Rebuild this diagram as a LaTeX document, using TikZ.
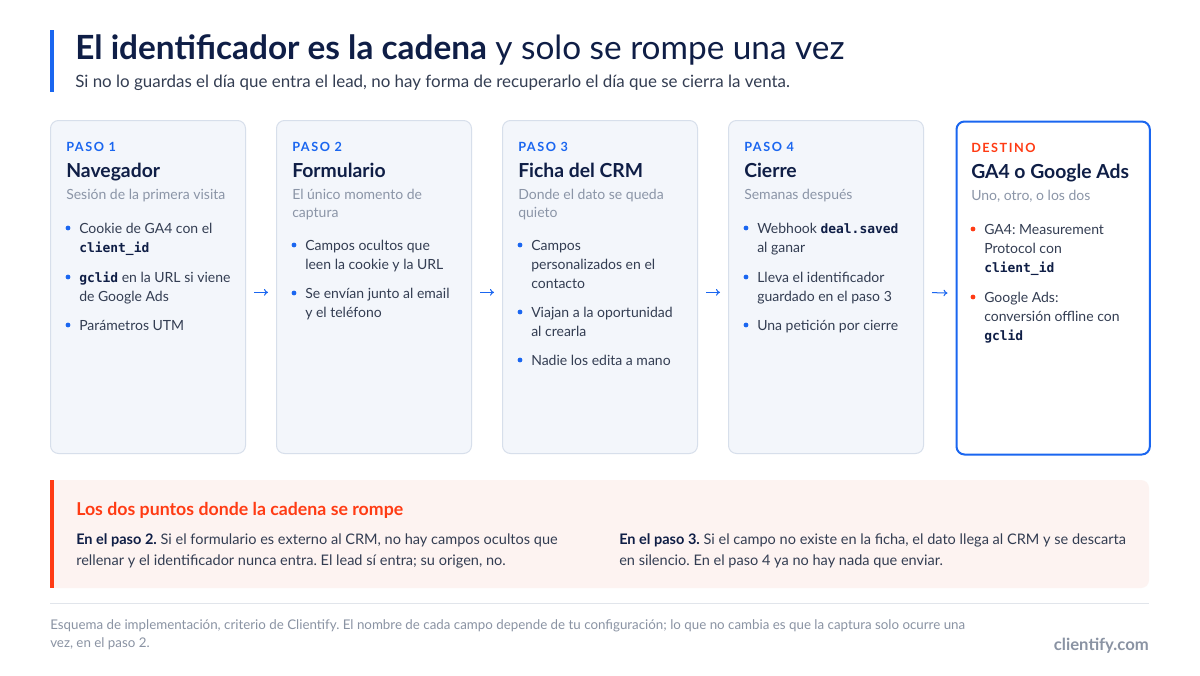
\documentclass[tikz,border=0pt]{standalone}
\usepackage{fontspec}
\setmainfont{Lato}
\setmonofont{DejaVu Sans Mono}
\usetikzlibrary{positioning,arrows.meta}
\frenchspacing

\definecolor{navy}{HTML}{0F1E46}
\definecolor{accent}{HTML}{1A66F0}
\definecolor{alert}{HTML}{FF3B14}
\definecolor{muted}{HTML}{8B95A7}
\definecolor{body}{HTML}{333D52}
\definecolor{boxfill}{HTML}{F3F6FB}
\definecolor{boxline}{HTML}{D7DFEB}
\definecolor{panelfill}{HTML}{FDF3F1}
\definecolor{rulegray}{HTML}{E1E5EB}
\definecolor{foot}{HTML}{8A93A3}

\newcommand\idcode[1]{{\fontsize{9.7}{14.25}\selectfont\ttfamily\bfseries\color{navy}#1}}

% multi-line nodes: the base anchor sits on the last line
\tikzset{
  stepbox/.style={draw=boxline, fill=boxfill, line width=0.75pt, rounded corners=6pt,
    anchor=north west, inner sep=0, minimum width=146.25pt, minimum height=249.75pt},
  goalbox/.style={stepbox, draw=accent, fill=white, line width=1.5pt, minimum width=145pt},
  paso/.style={anchor=base west, inner sep=0, text=accent,
    font=\fontsize{9.5}{11}\selectfont\bfseries\addfontfeature{LetterSpace=12}},
  ttl/.style={anchor=base west, inner sep=0, text=navy, font=\fontsize{14.5}{17}\selectfont\bfseries},
  sub/.style={anchor=base west, inner sep=0, align=left, text=muted, font=\fontsize{10.5}{13.5}\selectfont},
  item/.style={anchor=base west, inner sep=0, align=left, text=body, font=\fontsize{10.5}{14.25}\selectfont},
  dot/.style={circle, fill=accent, inner sep=0, minimum size=3.6pt},
  flow/.style={accent, line width=0.75pt, -{To[length=3pt,width=5pt]}, shorten <=6pt, shorten >=6pt},
  para/.style={anchor=base west, inner sep=0, align=left, text=body, font=\fontsize{10.9}{15.75}\selectfont},
}

\begin{document}
\begin{tikzpicture}[x=0.75pt, y=-0.75pt]
  \useasboundingbox (0,0) rectangle (1200,675);
  \fill[white] (0,0) rectangle (1200,675);

  % cabecera
  \fill[accent] (50,30) rectangle (54,92);
  \node[anchor=base west, inner sep=0, text=navy, font=\fontsize{25}{29}\selectfont] (title) at (75,59)
    {\textbf{El identificador es la cadena} y solo se rompe una vez};
  \node[anchor=base west, inner sep=0, text=body, font=\fontsize{12.7}{15}\selectfont] (lead) at (75,87)
    {Si no lo guardas el día que entra el lead, no hay forma de recuperarlo el día que se cierra la venta.};

  % pasos
  \node[stepbox] (b1) at (50,120) {};
  \node[stepbox] (b2) at (276,120) {};
  \node[stepbox] (b3) at (502,120) {};
  \node[stepbox] (b4) at (728,120) {};
  \node[goalbox] (b5) at (955.5,120.5) {};
  \foreach \a/\b in {b1/b2,b2/b3,b3/b4,b4/b5}
    \draw[flow] ([yshift=-4pt]\a.east) -- ([yshift=-4pt]\b.west);

  % paso 1
  \node[paso] (p1) at (66,151) {PASO 1};
  \node[ttl] (t1) at (66,177) {Navegador};
  \node[sub] (s1) at (66,199) {Sesión de la primera visita};
  \node[dot] at (68,228) {};
  \node[item] (i11) at (79,252) {Cookie de GA4 con el\\\idcode{client\_id}};
  \node[dot] at (68,277) {};
  \node[item] (i12) at (79,301) {\idcode{gclid} en la URL si viene\\de Google Ads};
  \node[dot] at (68,325) {};
  \node[item] (i13) at (79,330) {Parámetros UTM};

  % paso 2
  \node[paso] (p2) at (292,151) {PASO 2};
  \node[ttl] (t2) at (292,177) {Formulario};
  \node[sub] (s2) at (292,217) {El único momento de\\captura};
  \node[dot] at (294,245) {};
  \node[item] (i21) at (305,269) {Campos ocultos que\\leen la cookie y la URL};
  \node[dot] at (294,293) {};
  \node[item] (i22) at (305,317) {Se envían junto al email\\y el teléfono};

  % paso 3
  \node[paso] (p3) at (518,151) {PASO 3};
  \node[ttl] (t3) at (518,177) {Ficha del CRM};
  \node[sub] (s3) at (518,217) {Donde el dato se queda\\quieto};
  \node[dot] at (520,245) {};
  \node[item] (i31) at (531,288) {Campos\\personalizados en el\\contacto};
  \node[dot] at (520,312) {};
  \node[item] (i32) at (531,336) {Viajan a la oportunidad\\al crearla};
  \node[dot] at (520,360) {};
  \node[item] (i33) at (531,365) {Nadie los edita a mano};

  % paso 4
  \node[paso] (p4) at (744,151) {PASO 4};
  \node[ttl] (t4) at (744,177) {Cierre};
  \node[sub] (s4) at (744,199) {Semanas después};
  \node[dot] at (746,228) {};
  \node[item] (i41) at (757,252) {Webhook \idcode{deal.saved}\\al ganar};
  \node[dot] at (746,277) {};
  \node[item] (i42) at (757,301) {Lleva el identificador\\guardado en el paso 3};
  \node[dot] at (746,325) {};
  \node[item] (i43) at (757,330) {Una petición por cierre};

  % destino
  \node[paso, text=alert] (p5) at (971,152) {DESTINO};
  \node[ttl] (t5) at (971,178) {GA4 o Google Ads};
  \node[sub] (s5) at (971,200) {Uno, otro, o los dos};
  \node[dot, fill=alert] at (973,229) {};
  \node[item] (i51) at (984,272) {GA4: Measurement\\Protocol con\\\idcode{client\_id}};
  \node[dot, fill=alert] at (973,297) {};
  \node[item] (i52) at (984,340) {Google Ads:\\conversión offline con\\\idcode{gclid}};

  % aviso
  \fill[panelfill, rounded corners=6pt] (50,480) rectangle (1149,588);
  \fill[panelfill] (50,480) rectangle (70,588);
  \fill[alert] (50,480) rectangle (54,588);
  \node[anchor=base west, inner sep=0, text=alert, font=\fontsize{13.3}{16}\selectfont\bfseries] (warn) at (76,515)
    {Los dos puntos donde la cadena se rompe};
  \node[para] (w1) at (76,565) {\textcolor{navy}{\textbf{En el paso 2.}} Si el formulario es externo al CRM, no hay campos ocultos que\\rellenar y el identificador nunca entra. El lead sí entra; su origen, no.};
  \node[para] (w2) at (619,565) {\textcolor{navy}{\textbf{En el paso 3.}} Si el campo no existe en la ficha, el dato llega al CRM y se descarta\\en silencio. En el paso 4 ya no hay nada que enviar.};

  % pie
  \draw[rulegray, line width=0.75pt] (50,603) -- (1149,603);
  \node[anchor=base west, inner sep=0, align=left, text=foot, font=\fontsize{10}{13.5}\selectfont] (note) at (50,647)
    {Esquema de implementación, criterio de Clientify. El nombre de cada campo depende de tu configuración; lo que no cambia es que la captura solo ocurre una\\vez, en el paso 2.};
  \node[anchor=base east, inner sep=0, text=foot, font=\fontsize{12.5}{15}\selectfont\bfseries] (brand) at (1149,650) {clientify.com};
\end{tikzpicture}
\end{document}
